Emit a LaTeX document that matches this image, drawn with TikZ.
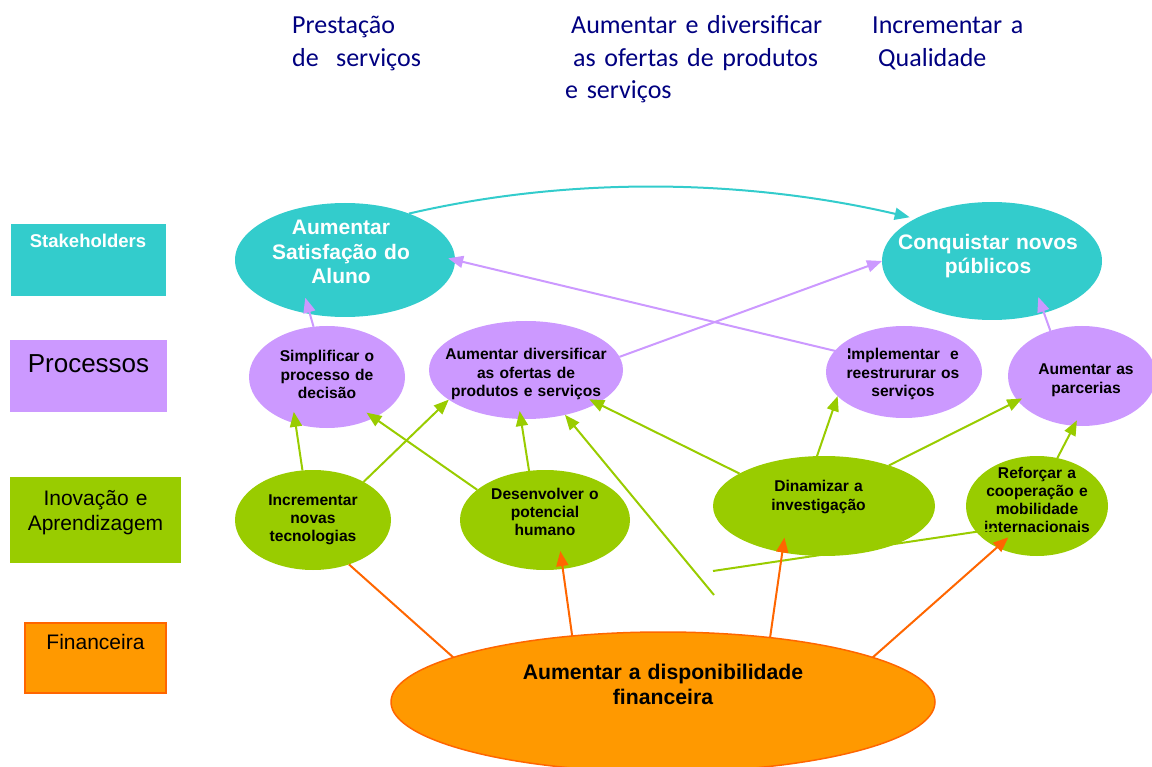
\documentclass[tikz,border=0pt]{standalone}
\usepackage{fontspec}
\setmainfont{Liberation Sans}
\newfontfamily\calib[WordSpace=0.8]{Carlito}
\usetikzlibrary{shapes.geometric,arrows.meta}
\definecolor{cy}{HTML}{33CCCC}
\definecolor{pu}{HTML}{CC99FF}
\definecolor{gr}{HTML}{99CC00}
\definecolor{orf}{HTML}{FF9900}
\definecolor{orc}{HTML}{FF6600}
\definecolor{nv}{HTML}{000080}
\begin{document}
\begin{tikzpicture}[x=1pt,y=-1pt,
  ell/.style={ellipse, inner sep=0pt, outer sep=0pt},
  rbox/.style={rectangle, inner sep=0pt, outer sep=0pt},
  lbl/.style={inner sep=0pt, outer sep=0pt, align=center, text width=#1, anchor=base},
  lbl/.default=200pt,
  toptxt/.style={font={\calib\fontsize{26}{32.5}\selectfont}, text=nv, align=left, text width=320pt, inner sep=0pt, anchor=base west},
  wbig/.style={font={\bfseries\fontsize{21}{24.5}\selectfont}, text=white},
  sml/.style={font={\bfseries\fontsize{15.6}{18.3}\selectfont}},
  tipA/.style={-{Triangle[length=15pt,width=12pt]}},
  cyA/.style={draw=cy, line width=2pt, tipA},
  puA/.style={draw=pu, line width=2pt, tipA},
  grA/.style={draw=gr, line width=2pt, tipA},
  grN/.style={draw=gr, line width=2pt},
  orA/.style={draw=orc, line width=2pt, tipA},
  orN/.style={draw=orc, line width=2pt}]
\useasboundingbox (0,0) rectangle (1152,767);

% top texts
\node[toptxt] (t1) at (292,34) {Prestação\\de~ serviços};
\node[toptxt] (t2) at (565,34) {\hspace*{6pt}Aumentar e diversificar\\\hspace*{8pt}as ofertas de produtos\\e serviços};
\node[toptxt] (t3) at (872,34) {Incrementar a\\\hspace*{6pt}Qualidade};

% left boxes
\node[rbox, fill=cy, minimum width=155pt, minimum height=72pt] (bstk) at (88.5,260) {};
\node[inner sep=0pt, anchor=base, text=white, font={\bfseries\fontsize{18.5}{22}\selectfont}] (lstk) at (88,248) {Stakeholders};
\node[rbox, fill=pu, minimum width=157pt, minimum height=72pt] (bpro) at (88.5,376) {};
\node[inner sep=0pt, anchor=base, font={\fontsize{26}{30}\selectfont}] (lpro) at (88.5,373) {Processos};
\node[rbox, fill=gr, minimum width=171pt, minimum height=86pt] (binv) at (95.5,520) {};
\node[lbl, font={\fontsize{21}{25}\selectfont}] (linv) at (95.5,505) {Inovação e\\Aprendizagem};
\node[rbox, fill=orf, draw=orc, line width=1.5pt, minimum width=141pt, minimum height=70pt] (bfin) at (95.5,658) {};
\node[inner sep=0pt, anchor=base, font={\fontsize{21}{25}\selectfont}] (lfin) at (95.5,649) {Financeira};

% ellipses
\node[ell, fill=cy, minimum width=220pt, minimum height=114pt] (sat) at (345,260) {};
\node[ell, fill=cy, minimum width=220pt, minimum height=118pt] (con) at (992,261) {};
\node[ell, fill=pu, minimum width=156pt, minimum height=102pt] (sim) at (327,377) {};
\node[ell, fill=pu, minimum width=194pt, minimum height=98pt] (adv) at (526,370) {};
\node[ell, fill=pu, minimum width=156pt, minimum height=92pt] (imp) at (904,372) {};
\node[ell, fill=pu, minimum width=148pt, minimum height=100pt] (par) at (1082,376) {};
\node[ell, fill=gr, minimum width=156pt, minimum height=100pt] (inc) at (313,520) {};
\node[ell, fill=gr, minimum width=170pt, minimum height=100pt] (des) at (545,520) {};
\node[ell, fill=gr, minimum width=222pt, minimum height=100pt] (din) at (824,506) {};
\node[ell, fill=gr, minimum width=142pt, minimum height=100pt] (ref) at (1037,506) {};
\node[ell, fill=orf, draw=orc, line width=1.5pt, minimum width=544pt, minimum height=140pt] (fin) at (663,702) {};

% ellipse texts
\node[lbl, wbig] (satT) at (341,235) {Aumentar\\Satisfação do\\Aluno};
\node[lbl, text=white, font={\bfseries\fontsize{21}{23.5}\selectfont}] (conT) at (988,250) {Conquistar novos\\públicos};
\node[lbl, sml] (simT) at (327,362) {Simplificar o\\processo de\\decisão};
\node[lbl, sml] (advT) at (526,360) {Aumentar diversificar\\as ofertas de\\produtos e serviços};
\node[lbl, sml] (impT) at (903,360) {Implementar~ e\\reestrururar os\\serviços};
\node[lbl, sml] (parT) at (1086,375) {Aumentar as\\parcerias};
\node[lbl, sml] (incT) at (313,505) {Incrementar\\novas\\tecnologias};
\node[lbl, sml] (desT) at (545,499) {Desenvolver o\\potencial\\humano};
\node[lbl, font={\bfseries\fontsize{15.6}{19.8}\selectfont}] (dinT) at (818.5,491) {Dinamizar a\\investigação};
\node[lbl, sml] (refT) at (1037,478) {Reforçar a\\cooperação e\\mobilidade\\internacionais};
\node[lbl=400pt, font={\bfseries\fontsize{21.2}{25}\selectfont}] (finT) at (663,679) {Aumentar a disponibilidade\\financeira};

% connectors: stakeholders level
\draw[cyA, shorten >=6pt] (sat.36) .. controls (575,175) and (750,180) .. (con.151);
% processes -> stakeholders
\draw[puA, shorten <=-16pt, shorten >=-7pt] (imp.163) -- (sat.0);
\draw[puA] (adv.8) -- (con.180);
\draw[puA, shorten >=-17pt] (sim.105) -- (sat.237);
\draw[puA, shorten >=-17pt] (par.125) -- (con.315);
% innovation -> processes
\draw[grA, shorten >=-12pt] (inc.102) -- (sim.236);
\draw[grA] (inc.37) -- (adv.201);
\draw[grA, shorten >=-9pt] (des.156) -- (sim.319);
\draw[grA, shorten >=-8pt] (des.108) -- (adv.264);
\coordinate (f1) at (714,595);
\draw[grA] (f1) -- (adv.311);
\draw[grA, shorten >=-9pt] (din.159) -- (adv.335);
\draw[grA] (din.98) -- (imp.200);
\draw[grA, shorten >=-5pt] (din.32) -- (par.201);
\draw[grA, shorten >=-6pt] (ref.67) -- (par.261);
\coordinate (f2) at (713,571);
\draw[grN, shorten >=-20pt] (f2) -- (ref.203);
% finance -> innovation
\draw[orN] (fin.168) -- (inc.309);
\draw[orA, shorten >=-18pt] (fin.144) -- (des.290);
\draw[orA, shorten >=-15pt] (fin.31) -- (din.228);
\draw[orA, shorten >=-15pt] (fin.12) -- (ref.226);
\end{tikzpicture}
\end{document}
